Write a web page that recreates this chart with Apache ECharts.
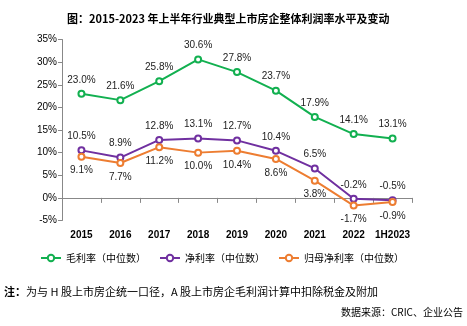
<!DOCTYPE html>
<html>
<head>
<meta charset="utf-8">
<script src="https://cdn.jsdelivr.net/npm/echarts@6/dist/echarts.min.js"></script>
<style>
  html, body { margin: 0; padding: 0; background: #fff; }
  #chart { width: 467px; height: 326px; }
</style>
</head>
<body>
<div id="chart"></div>
<script>
// Categories and the three median margin series (%)
var years = ['2015', '2016', '2017', '2018', '2019', '2020', '2021', '2022', '1H2023'];
var grossMargin = [23.0, 21.6, 25.8, 30.6, 27.8, 23.7, 17.9, 14.1, 13.1];
var netMargin = [10.5, 8.9, 12.8, 13.1, 12.7, 10.4, 6.5, -0.2, -0.5];
var parentNetMargin = [9.1, 7.7, 11.2, 10.0, 10.4, 8.6, 3.8, -1.7, -0.9];
var seriesNames = ['毛利率（中位数）', '净利率（中位数）', '归母净利率（中位数）'];

var cjk = '"Noto Sans CJK SC", "Liberation Sans", sans-serif';
var latin = '"Liberation Sans", Arial, sans-serif';

function pct(p) { return p.value.toFixed(1) + '%'; }

function lineSeries(name, data, color, pos) {
  return {
    name: name,
    type: 'line',
    data: data,
    symbol: 'emptyCircle',
    symbolSize: 6,
    lineStyle: { color: color, width: 2 },
    itemStyle: { color: color, borderWidth: 1.5 },
    label: {
      show: true,
      position: pos,
      distance: 5,
      formatter: pct,
      color: '#222',
      fontSize: 10,
      fontFamily: latin
    }
  };
}

var chart = echarts.init(document.getElementById('chart'), null, { renderer: 'canvas' });
chart.setOption({
  animation: false,
  backgroundColor: '#fff',
  title: {
    text: '图：2015-2023 年上半年行业典型上市房企整体利润率水平及变动',
    left: 62,
    top: 8,
    textStyle: { fontSize: 11, fontWeight: 'bold', fontFamily: cjk, color: '#000' }
  },
  grid: { left: 62, right: 55, top: 39.5, bottom: 105.5 },
  xAxis: {
    type: 'category',
    data: years,
    boundaryGap: true,
    axisLine: { lineStyle: { color: '#888' } },
    axisTick: { show: true, length: 5, lineStyle: { color: '#888' } },
    axisLabel: { interval: 0, fontSize: 10, fontWeight: 'bold', fontFamily: latin, color: '#000', margin: 10 }
  },
  yAxis: {
    type: 'value',
    min: -5,
    max: 35,
    interval: 5,
    splitLine: { show: false },
    axisLine: { show: true, lineStyle: { color: '#888' } },
    axisTick: { show: true, length: 4, lineStyle: { color: '#888' } },
    axisLabel: { formatter: '{value}%', fontSize: 10, fontFamily: latin, color: '#000', margin: 5 }
  },
  legend: {
    top: 248,
    left: 35,
    itemWidth: 20,
    itemHeight: 8,
    itemGap: 13,
    textStyle: { fontSize: 10, fontFamily: cjk, color: '#000' },
    data: seriesNames
  },
  series: [
    lineSeries(seriesNames[0], grossMargin, '#12B050', 'top'),
    lineSeries(seriesNames[1], netMargin, '#7030A0', 'top'),
    lineSeries(seriesNames[2], parentNetMargin, '#ED7D31', 'bottom')
  ],
  graphic: [
    {
      type: 'text',
      left: 4,
      top: 286,
      style: {
        text: '{b|注：}为与 H 股上市房企统一口径，A 股上市房企毛利润计算中扣除税金及附加',
        fontSize: 11,
        fontFamily: cjk,
        fill: '#000',
        rich: { b: { fontWeight: 'bold', fontSize: 11, fontFamily: cjk } }
      }
    },
    {
      type: 'text',
      right: 4,
      top: 307,
      style: {
        text: '数据来源：CRIC、企业公告',
        fontSize: 10,
        fontFamily: cjk,
        fill: '#000'
      }
    }
  ]
});
</script>
</body>
</html>
